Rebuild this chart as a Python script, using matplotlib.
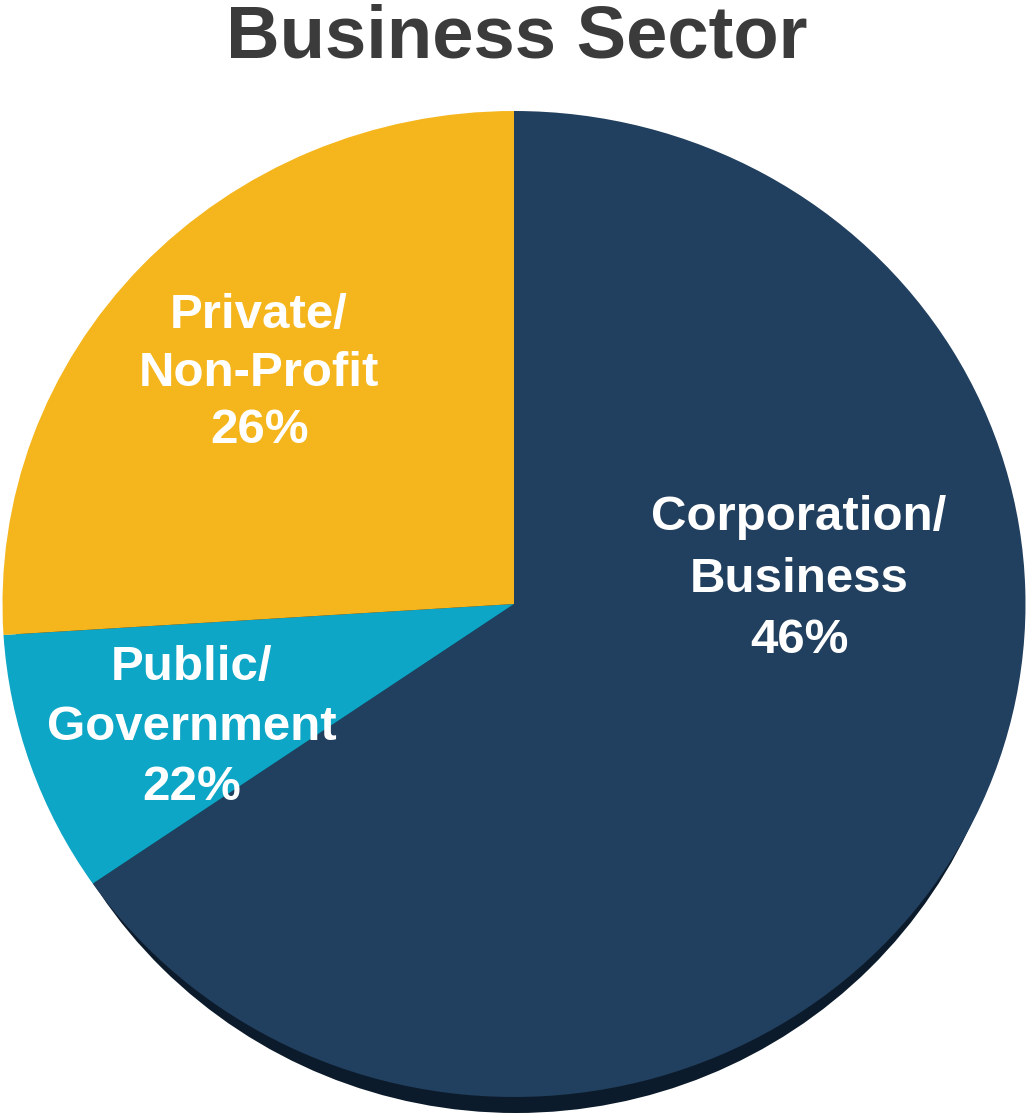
import matplotlib
matplotlib.use("Agg")
import matplotlib.pyplot as plt
from matplotlib.patches import Ellipse

# Data
categories = ["Corporation/\nBusiness", "Public/\nGovernment", "Private/\nNon-Profit"]
percent_labels = ["46%", "22%", "26%"]
# slice shares as drawn in the reference picture (degrees of arc / 360)
slice_shares = [65.4, 8.6, 26.0]
colors = ["#213f5e", "#0ea6c6", "#f5b51d"]
title = "Business Sector"

W, H = 1027, 1120
fig = plt.figure(figsize=(W / 100, H / 100), dpi=100)
fig.patch.set_facecolor("white")
ax = fig.add_axes([0, 0, 1, 1])
ax.set_axis_off()

# pixel geometry of the pie
cx, cy = 514.0, 604.0
rx, ry = 511.5, 493.0

# shadow
shadow = Ellipse((2 / rx, -16 / ry), 2 * 500 / rx, 2.0, facecolor="#0c1b2b",
                 edgecolor="none", zorder=0)
ax.add_patch(shadow)

ax.pie(slice_shares, colors=colors, startangle=90, counterclock=False,
       radius=1.0, center=(0, 0), frame=True,
       wedgeprops=dict(edgecolor="none", linewidth=0, zorder=1))
ax.set_xlim(-cx / rx, (W - cx) / rx)
ax.set_ylim((cy - H) / ry, cy / ry)
ax.set_aspect("auto")
ax.set_axis_off()

font = ["Liberation Sans", "DejaVu Sans"]

def ftext(px, py, s, **kw):
    fig.text(px / W, 1 - py / H, s, ha="center", va="baseline",
             family=font, fontweight="bold", **kw)

ftext(517, 57, title, fontsize=53.5, color="#3b3b3b")

# label positions (pixel centre x, baselines)
label_pos = [
    (799, [530, 592, 653]),
    (192, [680, 740, 800]),
    (259, [328, 386, 443]),
]
for cat, pct, (px, bases) in zip(categories, percent_labels, label_pos):
    lines = cat.split("\n") + [pct]
    for line, b in zip(lines, bases):
        ftext(px, b, line, fontsize=35.5, color="white")

fig.savefig("out.png", dpi=100, facecolor="white")
